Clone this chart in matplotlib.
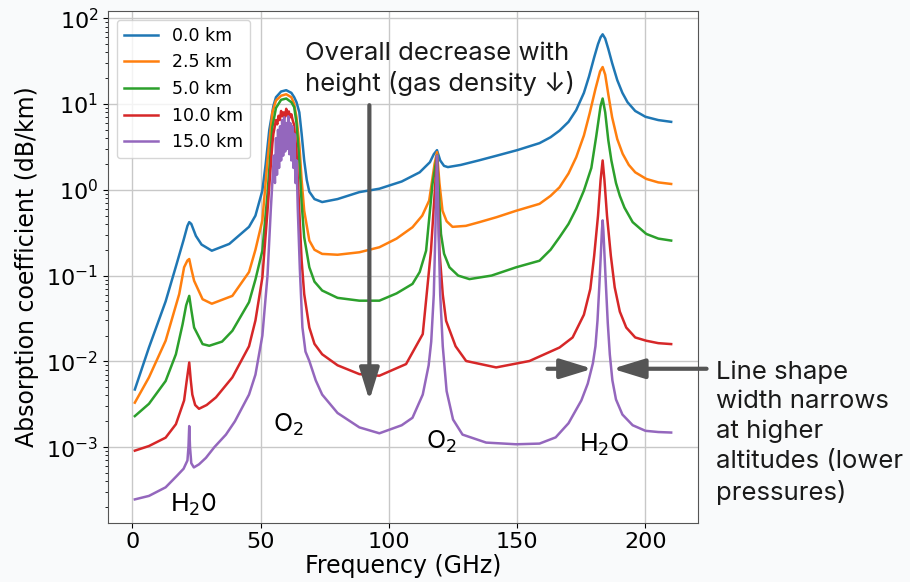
import matplotlib
matplotlib.use("Agg")
import matplotlib.pyplot as plt

# frequency (GHz) / absorption (dB/km), one pair per altitude
freq_0km = [1, 6.5, 13, 17.3, 20, 21.5, 22.2, 23, 24.8, 27, 31, 37.8, 45.5, 48, 50.7, 52,
            53.4, 55, 56, 58, 60, 62, 63.1, 64, 65.1, 66, 67, 68, 69, 71, 74, 80, 88.5,
            96.3, 105, 112, 116, 117.5, 118.75, 120, 121.5, 123, 128, 135, 142, 150,
            158.7, 163, 166.5, 170, 173, 176, 178, 180, 181.5, 182.5, 183.3, 184.3,
            185.5, 187, 189, 191, 193, 196, 200, 205, 210]
alpha_0km = [4.7e-3, 0.0145, 0.050, 0.137, 0.26, 0.38, 0.42, 0.40, 0.29, 0.23, 0.195,
             0.234, 0.37, 0.5, 0.98, 2.0, 5.0, 9.5, 12.0, 14.0, 14.5, 13.5, 12.0, 10.5,
             8.0, 4.5, 2.2, 1.3, 0.95, 0.78, 0.72, 0.78, 0.94, 1.03, 1.25, 1.6, 2.1, 2.6,
             2.9, 2.2, 1.9, 1.84, 1.95, 2.2, 2.5, 2.9, 3.5, 4.1, 4.9, 6.2, 8.5, 13.5,
             21, 35, 50, 60, 65, 58, 44, 30, 19, 13.5, 10.5, 8.3, 7.1, 6.5, 6.2]

freq_2p5km = [1, 6.5, 13, 18.3, 20.2, 21.5, 22.2, 23, 24.1, 27.4, 31, 39, 45.5, 48, 50.7,
              52.7, 54.6, 56, 58, 60, 62, 63.1, 64, 65.1, 66, 67, 69, 71, 74, 80, 88.5,
              96.3, 103, 109.2, 113, 115.7, 117.8, 118.75, 119.7, 120.9, 122.5, 124.8,
              130, 135.3, 142, 149.6, 158.7, 163, 166.5, 170, 173, 176, 178.2, 180.5,
              182.3, 183.3, 184.3, 185.5, 187, 189, 191.1, 193.5, 196, 200.3, 205, 210]
alpha_2p5km = [3.3e-3, 6.5e-3, 0.0174, 0.061, 0.125, 0.15, 0.156, 0.12, 0.087, 0.053,
               0.047, 0.058, 0.11, 0.2, 0.44, 2.2, 8.0, 11, 12.5, 13, 12, 10, 7, 3.4, 1.3,
               0.57, 0.256, 0.2, 0.179, 0.175, 0.187, 0.214, 0.27, 0.366, 0.5, 0.75, 2.0,
               2.75, 1.2, 0.57, 0.43, 0.37, 0.38, 0.42, 0.48, 0.57, 0.686, 0.85, 1.07,
               1.55, 2.4, 4.3, 7.7, 15, 24, 27, 22, 13, 7, 3.9, 2.63, 1.95, 1.6, 1.34,
               1.22, 1.17]

freq_5km = [1, 6.5, 13, 17, 19.6, 21, 22.2, 23, 24.1, 27.4, 30, 35, 39, 45.5, 48, 50.7,
            52.7, 54.6, 56, 58, 60, 62, 63.1, 64, 65.1, 66, 67, 69, 71, 74, 80, 88.5,
            96.3, 103, 109.2, 112, 114.5, 117, 118.75, 120.3, 121.5, 123.6, 127, 131.4,
            140, 149.6, 158.7, 163, 166.5, 170, 173, 176, 178.9, 180.8, 182.5, 183.3,
            184.3, 185.5, 186.7, 188.5, 190, 191.8, 195, 200.3, 205, 210]
alpha_5km = [2.3e-3, 3.2e-3, 5.9e-3, 0.0121, 0.027, 0.045, 0.058, 0.04, 0.0248, 0.0159,
             0.0152, 0.017, 0.0227, 0.049, 0.09, 0.195, 0.9, 5.4, 9, 11.2, 11.6, 10.5,
             9.2, 6, 2.2, 0.7, 0.28, 0.125, 0.085, 0.067, 0.055, 0.051, 0.051, 0.062,
             0.08, 0.11, 0.195, 1.17, 2.5, 0.306, 0.18, 0.125, 0.1, 0.091, 0.1, 0.125,
             0.149, 0.2, 0.28, 0.4, 0.6, 0.98, 1.8, 4.2, 9.5, 11.6, 8, 3.8, 2.2, 1.2,
             0.85, 0.62, 0.42, 0.306, 0.27, 0.256]

freq_10km = [1, 6.5, 13, 17, 20.2, 21.2, 22.2, 22.8, 23.4, 24.5, 26, 29, 32.6, 39, 45.5,
             48, 50.7, 52.7, 54.6, 55, 56, 56.5, 57, 57.5, 58, 58.5, 59, 59.5, 60, 60.5,
             61, 61.5, 62, 62.5, 63, 64, 65, 66, 67, 69, 71, 74, 80, 88.5, 96.3, 106.7,
             113.2, 116.4, 118.75, 119.7, 121, 122.3, 126, 130.1, 141.8, 154.8, 166.5,
             171.6, 176, 178.5, 180, 181.5, 182.5, 183.3, 184, 185, 186.5, 188, 190,
             192.5, 196, 200.3, 205, 210]
alpha_10km = [9.1e-4, 1.03e-3, 1.29e-3, 1.85e-3, 3.5e-3, 5.9e-3, 9.7e-3, 6e-3, 4.1e-3,
              3.1e-3, 2.8e-3, 3.1e-3, 3.8e-3, 6.5e-3, 0.015, 0.03, 0.095, 0.57, 3.45, 4.5,
              6.5, 5.8, 7.3, 6.5, 8.3, 7.2, 8.0, 7.0, 8.8, 7.3, 8.2, 7.0, 7.6, 6.5, 5.8,
              2.8, 0.65, 0.15, 0.061, 0.0248, 0.016, 0.0121, 9e-3, 7.1e-3, 6.8e-3, 9.3e-3,
              0.0208, 0.195, 2.4, 0.195, 0.06, 0.0297, 0.015, 0.0101, 8.5e-3, 0.0101,
              0.0145, 0.019, 0.035, 0.07, 0.17, 0.5, 1.3, 2.2, 1.3, 0.5, 0.17, 0.073,
              0.038, 0.0248, 0.019, 0.0174, 0.0163, 0.0159]

freq_15km = [1, 6.5, 13, 17.3, 20, 21.5, 21.9, 22.2, 22.5, 23, 24, 26, 28.7, 32, 36.5, 40,
             45.5, 48, 50.7, 52.7, 54, 55, 55.2, 55.6, 56, 56.4, 56.8, 57.2, 57.6, 58,
             58.4, 58.8, 59.2, 59.6, 60, 60.4, 60.8, 61.2, 61.6, 62, 62.4, 62.8, 63.2,
             63.6, 64, 64.5, 65.3, 66.3, 67.5, 69, 71.5, 74, 80, 88.5, 96.3, 105, 109.2,
             113.2, 115.5, 116.5, 117.5, 118.1, 118.5, 118.75, 119, 119.4, 120, 121,
             122.5, 125, 128.7, 137.9, 149.6, 158.7, 165, 170, 175, 177.5, 179.5, 180.5,
             181.3, 182, 182.6, 183, 183.3, 183.6, 184, 184.6, 185.3, 186.1, 187.1,
             188.5, 191, 195, 200, 205, 210]
alpha_15km = [2.46e-4, 2.7e-4, 3.4e-4, 4.6e-4, 5.6e-4, 7e-4, 1.0e-3, 1.76e-3, 1.0e-3,
              6.5e-4, 5.8e-4, 6.3e-4, 7.5e-4, 1e-3, 1.4e-3, 2e-3, 4.1e-3, 7e-3, 0.02,
              0.1, 0.6, 2.0, 2.5, 1.2, 4.0, 1.5, 5.0, 1.8, 5.5, 2.2, 6.5, 2.5, 7.0, 2.8,
              6.0, 3.0, 7.2, 2.6, 6.0, 2.2, 5.5, 1.8, 4.5, 1.2, 2.2, 0.6, 0.12, 0.025,
              0.013, 0.0101, 6e-3, 4.1e-3, 2.5e-3, 1.7e-3, 1.45e-3, 1.8e-3, 2.2e-3,
              4.1e-3, 9e-3, 0.017, 0.06, 0.3, 1.2, 2.5, 1.2, 0.3, 0.06, 0.015, 4.5e-3,
              2.1e-3, 1.4e-3, 1.13e-3, 1.08e-3, 1.1e-3, 1.3e-3, 1.9e-3, 3.5e-3, 5.5e-3,
              9.5e-3, 0.015, 0.03, 0.075, 0.18, 0.33, 0.44, 0.33, 0.18, 0.075, 0.028,
              0.012, 6e-3, 3.6e-3, 2.4e-3, 1.8e-3, 1.55e-3, 1.5e-3, 1.48e-3]

series = [
    ("0.0 km", freq_0km, alpha_0km),
    ("2.5 km", freq_2p5km, alpha_2p5km),
    ("5.0 km", freq_5km, alpha_5km),
    ("10.0 km", freq_10km, alpha_10km),
    ("15.0 km", freq_15km, alpha_15km),
]

ANNOT_FONT = ["Inter", "DejaVu Sans"]
ARROW_GREY = "#555555"
ARROW_STYLE = "-|>,head_length=1.3,head_width=0.4"

fig = plt.figure(figsize=(9.1, 5.82), dpi=100)
fig.patch.set_facecolor("#f9fafb")
ax = fig.add_axes([0.1187, 0.102, 0.6483, 0.879])
ax.set_facecolor("white")

for label, freq, alpha in series:
    ax.plot(freq, alpha, lw=1.8, label=label)

ax.set_yscale("log")
ax.grid(True, which="major", color="#c8c8c8", lw=1.0)
ax.set_xticks([0, 50, 100, 150, 200])
ax.tick_params(labelsize=16)
for side in ax.spines.values():
    side.set_color("#555555")
ax.set_xlabel("Frequency (GHz)", fontsize=17, labelpad=1)
ax.set_ylabel("Absorption coefficient (dB/km)", fontsize=17, labelpad=5)
ax.legend(loc="upper left", fontsize=12.5)

# line labels
ax.text(60.8, 1.8e-3, "O$_2$", fontsize=18, family=ANNOT_FONT, ha="center", va="center")
ax.text(120.3, 1.15e-3, "O$_2$", fontsize=18, family=ANNOT_FONT, ha="center", va="center")
ax.text(184.0, 1.05e-3, "H$_2$O", fontsize=18, family=ANNOT_FONT, ha="center", va="center")
ax.text(23.7, 2.1e-4, "H$_2$0", fontsize=18, family=ANNOT_FONT, ha="center", va="center")

# arrows
ax.annotate("", xy=(92.4, 3.5e-3), xytext=(92.4, 9.7),
            arrowprops=dict(arrowstyle=ARROW_STYLE, color=ARROW_GREY, lw=3,
                            mutation_scale=15, shrinkA=0, shrinkB=0))
ax.annotate("", xy=(179.3, 8.2e-3), xytext=(161.8, 8.2e-3),
            arrowprops=dict(arrowstyle=ARROW_STYLE, color=ARROW_GREY, lw=3,
                            mutation_scale=15, shrinkA=0, shrinkB=0))
ax.annotate("", xy=(187.1, 8.2e-3), xytext=(223.8, 8.2e-3), annotation_clip=False,
            arrowprops=dict(arrowstyle=ARROW_STYLE, color=ARROW_GREY, lw=3,
                            mutation_scale=15, shrinkA=0, shrinkB=0))

fig.text(0.335, 0.882, "Overall decrease with\nheight (gas density \u2193)", fontsize=18.5,
         family=ANNOT_FONT, ha="left", va="center", linespacing=1.3, color="#1a1a1a")
fig.text(0.787, 0.2567, "Line shape\nwidth narrows\nat higher\naltitudes (lower\npressures)",
         fontsize=18.5, family=ANNOT_FONT, ha="left", va="center", linespacing=1.36,
         color="#1a1a1a")

fig.savefig("out.png", dpi=100, facecolor=fig.get_facecolor())
